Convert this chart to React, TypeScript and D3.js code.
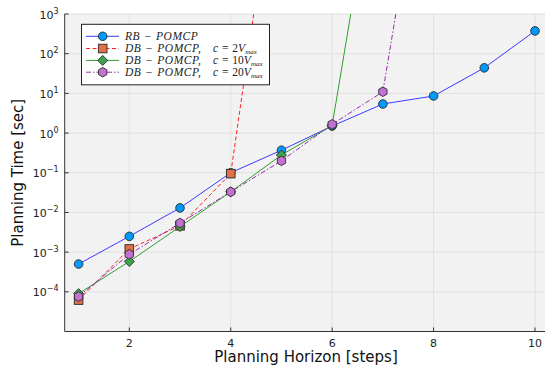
import * as d3 from 'd3';

const W = 545;
const H = 369;
const [pl, pt, pb] = [64.7, 14, 331.5];

const horizons = [1, 2, 3, 4, 5, 6, 7, 8, 9, 10];
const rbTime = [5.0e-4, 2.5e-3, 1.3e-2, 0.1, 0.37, 1.5, 5.4, 8.6, 44, 375];
const db2Time = [6.2e-5, 1.2e-3, 4.6e-3, 0.095, 7e7];
const db10Time = [9e-5, 5.8e-4, 4.4e-3, 0.033, 0.28, 1.55, 7e7];
const db20Time = [7.6e-5, 8.8e-4, 5.4e-3, 0.033, 0.2, 1.66, 11, 5e8];
const xTicks = [2, 4, 6, 8, 10];
const yExps = [-4, -3, -2, -1, 0, 1, 2, 3];

// x=1 -> 78.6, x=10 -> 535
const xScale = d3.scaleLinear().domain([1, 10]).range([78.6, 535]);
const yScale = d3.scaleLog().domain([1e-5, 1e3]).range([pb, pt]);

type Shape = 'circle' | 'square' | 'diamond' | 'hexagon';

const series: { name: string; cond?: string; values: number[]; line: string; fill: string; dash?: string; shape: Shape }[] = [
    { name: 'RB − POMCP', values: rbTime, line: '#3b3bff', fill: '#009afa', shape: 'circle' },
    { name: 'DB − POMCP,', cond: '2', values: db2Time, line: '#ff2020', fill: '#e26f46', dash: '4 2.5', shape: 'square' },
    { name: 'DB − POMCP,', cond: '10', values: db10Time, line: '#2e9e2e', fill: '#3da44d', shape: 'diamond' },
    { name: 'DB − POMCP,', cond: '20', values: db20Time, line: '#9a2aa8', fill: '#c271d2', dash: '5 2 1.5 2', shape: 'hexagon' }
];

function Marker({ shape, x, y, fill }: { shape: Shape; x: number; y: number; fill: string }) {
    const stroke = '#2a2a2a';
    if (shape === 'circle') return <circle cx={x} cy={y} r={4.3} fill={fill} stroke={stroke} strokeWidth={0.9} />;
    if (shape === 'square')
        return <rect x={x - 4.3} y={y - 4.3} width={8.6} height={8.6} fill={fill} stroke={stroke} strokeWidth={0.9} />;
    if (shape === 'diamond') {
        const r = 5;
        return <path d={`M${x},${y - r}L${x + r},${y}L${x},${y + r}L${x - r},${y}Z`} fill={fill} stroke={stroke} strokeWidth={0.9} />;
    }
    const r = 4.8;
    const pts = d3.range(6).map((i) => {
        const a = (Math.PI / 3) * i - Math.PI / 2;
        return `${x + r * Math.cos(a)},${y + r * Math.sin(a)}`;
    });
    return <polygon points={pts.join(' ')} fill={fill} stroke={stroke} strokeWidth={0.9} />;
}

export default function App() {
    const line = d3
        .line<number>()
        .x((_, i) => xScale(horizons[i]))
        .y((d) => yScale(d));

    const legendRows = [36.3, 48.5, 60.4, 72.2];

    return (
        <div style={{ position: 'absolute', left: 0, top: 0 }}>
            <svg width={W} height={H} style={{ display: 'block', background: '#fff' }}>
                <defs>
                    <clipPath id="plotClip">
                        <rect x={pl} y={pt} width={W - pl} height={pb - pt} />
                    </clipPath>
                </defs>
                <rect x={pl} y={pt} width={W - pl} height={pb - pt} fill="#f2f2f2" />
                {/* grid */}
                {xTicks.map((t) => (
                    <line key={t} x1={xScale(t)} x2={xScale(t)} y1={pt} y2={pb} stroke="#e0e0e0" strokeWidth={1} />
                ))}
                {yExps.map((e) => (
                    <line key={e} x1={pl} x2={W} y1={yScale(10 ** e)} y2={yScale(10 ** e)} stroke="#e0e0e0" strokeWidth={1} />
                ))}
                {/* series */}
                <g clipPath="url(#plotClip)">
                    {series.map((s, si) => (
                        <g key={si}>
                            <path d={line(s.values)!} fill="none" stroke={s.line} strokeWidth={1} strokeDasharray={s.dash} />
                            {s.values.map((v, i) => (
                                <Marker key={i} shape={s.shape} x={xScale(horizons[i])} y={yScale(v)} fill={s.fill} />
                            ))}
                        </g>
                    ))}
                </g>
                {/* axes */}
                <line x1={pl} x2={pl} y1={pt} y2={pb} stroke="#333" strokeWidth={1} />
                <line x1={pl} x2={W} y1={pb} y2={pb} stroke="#333" strokeWidth={1} />
                {xTicks.map((t) => (
                    <g key={t}>
                        <line x1={xScale(t)} x2={xScale(t)} y1={pb} y2={pb - 4} stroke="#333" />
                        <text x={xScale(t)} y={346.5} textAnchor="middle" fontFamily="DejaVu Sans" fontSize={11} fill="#222">
                            {t}
                        </text>
                    </g>
                ))}
                {yExps.map((e) => (
                    <g key={e}>
                        <line x1={pl} x2={pl + 4} y1={yScale(10 ** e)} y2={yScale(10 ** e)} stroke="#333" />
                        <text x={58.5} y={yScale(10 ** e) + 4.5} textAnchor="end" fontFamily="DejaVu Sans" fontSize={11} fill="#222">
                            10
                            <tspan dy={-5} fontSize={8}>
                                {e < 0 ? `−${-e}` : e}
                            </tspan>
                        </text>
                    </g>
                ))}
                <text x={306} y={362} textAnchor="middle" fontFamily="DejaVu Sans" fontSize={15} fill="#111">
                    Planning Horizon [steps]
                </text>
                <text
                    transform={`translate(22.5, ${(pt + pb) / 2}) rotate(-90)`}
                    textAnchor="middle"
                    fontFamily="DejaVu Sans"
                    fontSize={15}
                    fill="#111"
                >
                    Planning Time [sec]
                </text>
                {/* legend */}
                <rect x={81.5} y={24.3} width={188} height={60.5} fill="#fff" stroke="#222" strokeWidth={1} />
                {series.map((s, i) => (
                    <g key={i}>
                        <line x1={86} x2={119} y1={legendRows[i]} y2={legendRows[i]} stroke={s.line} strokeDasharray={s.dash} />
                        <Marker shape={s.shape} x={102.7} y={legendRows[i]} fill={s.fill} />
                        <text
                            x={125}
                            y={legendRows[i] + 3.8}
                            fontFamily="Liberation Serif"
                            fontStyle="italic"
                            fontSize={11.5}
                            letterSpacing={0.5}
                            wordSpacing={0.5}
                            fill="#222"
                        >
                            {s.name}
                        </text>
                        {s.cond && (
                            <text x={213} y={legendRows[i] + 3.8} fontFamily="Liberation Serif" fontSize={11.5} wordSpacing={1} fill="#222">
                                <tspan fontStyle="italic">c</tspan> = {s.cond}
                                <tspan fontStyle="italic">V</tspan>
                                <tspan dy={2} fontSize={7} fontStyle="italic">
                                    max
                                </tspan>
                            </text>
                        )}
                    </g>
                ))}
            </svg>
        </div>
    );
}
